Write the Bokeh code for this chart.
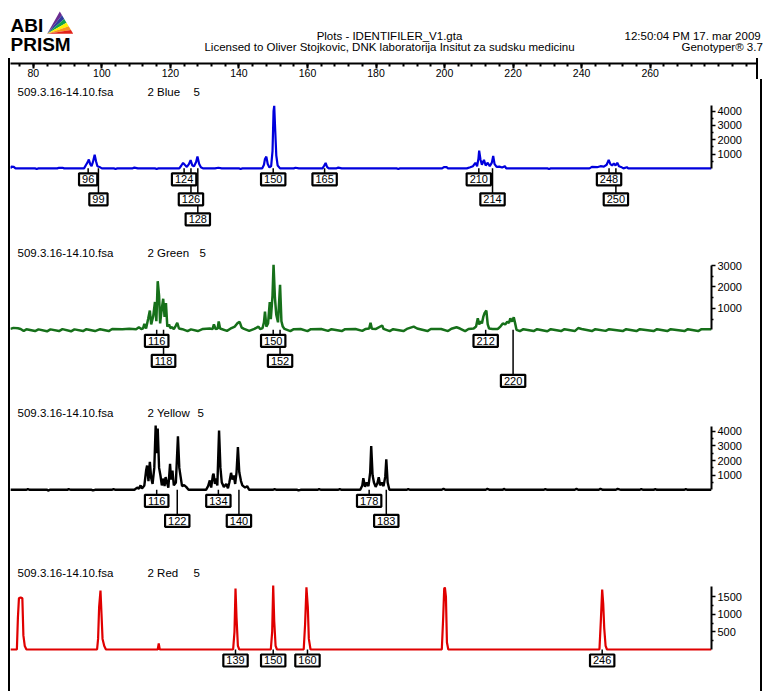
from math import pi
from bokeh.plotting import figure
from bokeh.models import Range1d, FixedTicker, Spacer
from bokeh.layouts import column, row
from bokeh.embed import file_html
from bokeh.resources import INLINE
from bokeh.core.properties import value

FONT = "Liberation Sans"

# ---------------- texts ----------------
logo_top = "ABI"
logo_bottom = "PRISM"
title_line1 = "Plots - IDENTIFILER_V1.gta"
title_line2 = "Licensed to Oliver Stojkovic, DNK laboratorija Insitut za sudsku medicinu"
stamp_line1 = "12:50:04  PM 17. mar 2009"
stamp_line2 = "Genotyper\u00ae 3.7"
sample_name = "509.3.16-14.10.fsa"
dye_names = ["2 Blue", "2 Green", "2 Yellow", "2 Red"]
lane = "5"

# ---------------- size axis (bp) ----------------
ruler_ticks = [80, 100, 120, 140, 160, 180, 200, 220, 240, 260]
ruler_minor = list(range(76, 292, 4))

# ---------------- traces (size in bp, signal in RFU) ----------------
blue_trace = [
    (73.3, 0), (73.6, 120), (74.3, 100), (74.8, 0), (80.5, 0), (81, -40), (81.5, 0),
    (87, 0), (87.5, 40), (88.5, 40), (89, 0),
    (94.8, 0), (95.4, 250), (95.9, 450), (96.2, 620), (96.6, 300), (97.0, 150), (97.4, 450),
    (97.9, 950), (98.3, 500), (98.7, 150), (99.3, 100), (100, 0),
    (103.5, 0), (104, -40), (104.5, 0), (109, 0), (109.5, 50), (110.5, 0), (115.5, 0), (116, -40), (116.5, 0),
    (122.6, 0), (123.2, 200), (123.7, 380), (124.2, 250), (124.8, 100), (125.4, 300), (125.9, 580),
    (126.4, 200), (126.9, 150), (127.5, 450), (127.9, 830), (128.4, 300), (128.9, 80), (129.5, 0),
    (133, 0), (134, 40), (135, 0), (140, 0), (140.5, -40), (141, 0),
    (146.8, 0), (147.3, 250), (147.6, 650), (148.0, 820), (148.4, 300), (148.9, 60), (149.4, 150),
    (149.8, 1200), (150.1, 4000), (150.3, 4380), (150.6, 2600), (150.9, 900), (151.3, 200), (152.0, 0),
    (156, 0), (156.5, 40), (157.5, 0),
    (164.4, 0), (164.9, 200), (165.3, 380), (165.7, 100), (166.2, 0), (168.5, 0), (169, 50), (170, 0),
    (186, 0), (186.5, -40), (187, 0), (199.3, 0), (199.8, 80), (200.6, 80), (201, 0),
    (206.5, 0), (207.5, 80), (208.3, 150), (209.0, 390), (209.5, 150), (209.9, 700), (210.1, 1240),
    (210.5, 600), (210.9, 250), (211.5, 590), (212.0, 200), (212.6, 390), (213.2, 150), (213.8, 400),
    (214.2, 870), (214.6, 300), (215.2, 100), (216.0, 120), (216.8, 60), (217.6, 150), (218.0, 0),
    (230, 0), (230.5, -40), (231, 0),
    (242.3, 0), (243.0, 100), (244.5, 80), (245.5, 150), (246.5, 120), (247.3, 250), (247.9, 590),
    (248.4, 300), (248.9, 200), (249.4, 350), (249.9, 200), (250.4, 390), (250.9, 150), (251.5, 100),
    (252.2, 0), (253.2, 80), (253.6, 0), (277.9, 0),
]
green_trace = [
    (73.3, 40), (74.2, 90), (75.5, 70), (76.3, 40), (77.2, -60), (78, 30), (80.5, -60), (81.5, 20),
    (84, -70), (85, 20), (87.5, -60), (88.5, 30), (91, -70), (92, 20), (94.5, -60), (95.5, 30),
    (98, -60), (99.5, 30), (102, -60), (103, 40), (106, 30), (108, 50), (110, 30), (110.8, 120), (111.5, 40),
    (112.0, 60), (112.4, 280), (112.9, 60), (113.5, 500), (114.0, 900), (114.4, 250), (115.0, 650),
    (115.5, 1300), (115.9, 400), (116.3, 2270), (116.7, 1600), (117.0, 300), (117.5, 1000), (117.9, 1450),
    (118.3, 600), (118.7, 1250), (119.1, 150), (119.6, 250), (120.0, 80), (120.5, 120), (121.0, 30),
    (121.6, 200), (122.0, 330), (122.5, 60), (123.5, 30),
    (125, -60), (126, 20), (128, -60), (129.5, 40), (131.5, 60), (132.3, 30), (132.7, 250), (133.2, 40),
    (133.8, 60), (134.1, 390), (134.5, 60), (136.5, -50), (137.5, 50), (138.8, 150), (139.5, 300),
    (140.2, 370), (140.8, 100), (141.5, 40), (143, -50), (144.5, 40), (145.7, 150), (146.2, 30),
    (146.9, 80), (147.3, 350), (147.6, 850), (148.0, 150), (148.5, 300), (149.0, 1300), (149.3, 500),
    (149.8, 1600), (150.1, 3040), (150.5, 1500), (150.9, 700), (151.4, 350), (152.0, 2100), (152.4, 400),
    (152.8, 150), (153.3, 40),
    (155, -60), (156, 30), (158, 40), (160, -60), (161, 30), (164, 40), (166, -50), (167, 30),
    (170, -60), (171, 30), (174, 40), (176, -50), (177, 40), (178.0, 60), (178.4, 330), (178.8, 50),
    (180, 40), (181.8, 200), (182.2, 40), (184, -60), (185, 30), (188, -60), (189, 40), (191, 150),
    (192, 60), (195, -60), (196, 40), (199, 40), (201, -60), (202, 50), (203.5, 120), (204.5, 60),
    (206, -60), (207, 40),
    (208.5, 60), (209.2, 150), (209.7, 540), (210.1, 250), (210.5, 400), (210.9, 300), (211.3, 600),
    (211.7, 790), (212.2, 900), (212.6, 250), (213.0, 60), (214, 40), (215.5, 40),
    (216.3, 150), (217.0, 300), (217.7, 250), (218.3, 380), (218.8, 320), (219.2, 540), (219.7, 380),
    (220.2, 590), (220.6, 300), (221.0, 0), (222, -60), (223, 30), (226, -60), (227, 30), (230, -70),
    (231, 30), (234, -60), (235, 30), (238, -60), (239, 80), (240, 40), (243, -60), (244, 30),
    (247, -50), (248, 30), (252, -60), (253, 30), (256, -60), (257, 30), (261, -60), (262, 30),
    (265, -60), (266, 30), (270, -60), (271, 30), (274, -60), (275, 30), (277.9, 30),
]
yellow_trace = [
    (73.3, 0), (78, 0), (78.4, 50), (79, 0), (84, 0), (84.3, -50), (84.8, 0), (90, 0), (90.3, 50),
    (91, 0), (97, 0), (97.4, -40), (98, 0), (103, 0), (103.4, 50), (104, 0),
    (109.5, 0), (110.3, 150), (110.8, 80), (111.3, 300), (111.7, 80), (112.4, 300), (112.9, 1300),
    (113.2, 1660), (113.6, 600), (114.0, 1920), (114.4, 800), (114.8, 400), (115.3, 1500), (115.7, 4400),
    (116.0, 2500), (116.3, 4200), (116.7, 1500), (117.1, 980), (117.5, 300), (118.0, 770), (118.3, 250),
    (118.6, 870), (119.0, 500), (119.4, 150), (119.9, 1780), (120.2, 700), (120.6, 1320), (121.0, 300),
    (121.6, 500), (122.2, 3670), (122.6, 1500), (123.0, 870), (123.4, 250), (124.0, 320), (124.6, 200),
    (125.3, 0),
    (130.4, 0), (131.0, 250), (131.5, 640), (131.9, 150), (132.4, 1000), (132.6, 1100), (133.0, 400),
    (133.3, 770), (133.7, 300), (134.2, 4060), (134.6, 1500), (135.0, 500), (135.6, 200), (136.3, 400),
    (136.8, 100), (137.2, 500), (137.7, 1160), (138.1, 700), (138.5, 980), (138.9, 400), (139.3, 1200),
    (139.7, 2920), (140.1, 1200), (140.6, 600), (141.0, 300), (141.8, 150), (142.4, 250), (143.0, 0),
    (150, 0), (150.4, 50), (151, 0), (157, 0), (157.4, -40), (158, 0), (163, 0), (163.4, 50), (164, 0),
    (169, 0), (169.4, 50), (170, 0),
    (175.4, 0), (176.0, 300), (176.3, 800), (176.8, 200), (177.3, 500), (177.8, 250), (178.3, 1200),
    (178.6, 2990), (179.0, 1000), (179.4, 500), (179.9, 200), (180.4, 450), (180.8, 860), (181.2, 300),
    (181.7, 500), (182.2, 250), (182.7, 900), (183.0, 2080), (183.4, 500), (183.9, 0),
    (189, 0), (189.4, 50), (190, 0), (199.2, 0), (199.7, 70), (200.3, 0), (212, 0), (212.5, 60),
    (213.2, 0), (217, 0), (217.3, 70), (217.8, 0), (229, 0), (229.4, 50), (230, 0), (238, 0),
    (238.5, 60), (239, 0), (245, 0), (245.5, 70), (246.2, 0), (250, 0), (250.5, 60), (251.5, 0),
    (257, 0), (257.4, 50), (258, 0), (261, 0), (261.5, 50), (262, 0), (270, 0), (270.4, 50), (271, 0),
    (277.9, 0),
]
red_trace = [
    (73.3, 0), (75.2, 0), (75.5, 900), (75.8, 1450), (76.3, 1475), (76.8, 1450), (77.1, 400),
    (77.5, 100), (78, 0),
    (98.6, 0), (98.9, 300), (99.2, 1200), (99.6, 1670), (99.9, 1000), (100.2, 300), (100.7, 100), (101.2, 0),
    (116.3, 0), (116.6, 170), (116.9, 0),
    (138.3, 0), (138.7, 500), (139.0, 1730), (139.3, 900), (139.7, 100), (140.1, 0),
    (149.3, 0), (149.7, 500), (150.0, 1810), (150.3, 800), (150.7, 100), (151.1, 0),
    (158.9, 0), (159.3, 700), (159.7, 1760), (160.1, 1200), (160.4, 300), (160.9, 0),
    (199.2, 0), (199.6, 900), (199.9, 1720), (200.1, 1760), (200.4, 1500), (200.7, 200), (201.1, 0),
    (245.2, 0), (245.6, 800), (246.0, 1700), (246.3, 1300), (246.6, 600), (247.0, 100), (247.4, 0),
    (277.9, 0),
]

# ---------------- allele calls ----------------
blue_calls = [96, 99, 124, 126, 128, 150, 165, 210, 214, 248, 250]
blue_rows = [1, 2, 1, 2, 3, 1, 1, 1, 2, 1, 2]
green_calls = [116, 118, 150, 152, 212, 220]
green_rows = [1, 2, 1, 2, 1, 3]
yellow_calls = [116, 122, 134, 140, 178, 183]
yellow_rows = [1, 2, 1, 2, 1, 2]
red_calls = [139, 150, 160, 246]
red_rows = [1, 1, 1, 1]

# ---------------- signal axes ----------------
blue_yticks = [1000, 2000, 3000, 4000]
green_yticks = [1000, 2000, 3000]
yellow_yticks = [1000, 2000, 3000, 4000]
red_yticks = [500, 1000, 1500]

# ================= layout =================
HDR_W = 758
BODY_W = 750
BORDER = {"border-left": "2px solid black", "border-right": "2px solid black"}
PANEL_X = Range1d(73.34, 277.9)

hdr = figure(width=HDR_W, height=50, x_range=Range1d(0, HDR_W), y_range=Range1d(50, 0),
             toolbar_location=None, output_backend="svg", min_border=0,
             x_axis_location=None, y_axis_location=None, outline_line_color=None)
hdr.grid.visible = False

# logo prism: fan of colour bands
Lp, Ap, Rp = (38.7, 25.3), (51.3, 3.0), (64.7, 25.3)
band_colors = ["#6a2c91", "#2e3f9e", "#12a14a", "#fff200", "#f7941d", "#e2231a"]
n = len(band_colors)
xs, ys = [], []
for i in range(n):
    t0, t1 = i / n, (i + 1) / n
    p0 = (Ap[0] + (Rp[0] - Ap[0]) * t0, Ap[1] + (Rp[1] - Ap[1]) * t0)
    p1 = (Ap[0] + (Rp[0] - Ap[0]) * t1, Ap[1] + (Rp[1] - Ap[1]) * t1)
    xs.append([Lp[0], p0[0], p1[0]])
    ys.append([Lp[1], p0[1], p1[1]])
hdr.patches(xs, ys, fill_color=band_colors, line_color=None)

hdr.text(x=[2, 2], y=[17, 36], text=[logo_top, logo_bottom], text_font=value(FONT),
         text_font_style="bold", text_font_size="19px", text_align="left",
         text_baseline="middle", text_color="black")
hdr.text(x=[381, 381], y=[27, 38], text=[title_line1, title_line2], text_font=value(FONT),
         text_font_size="11.5px", text_align="center", text_baseline="middle", text_color="black")
hdr.text(x=[616, 673], y=[27, 38], text=[stamp_line1, stamp_line2], text_font=value(FONT),
         text_font_size="11.5px", text_align="left", text_baseline="middle", text_color="black")

# ruler (size axis)
ruler = figure(width=BODY_W, height=21, x_range=Range1d(73.34, 292.2), y_range=Range1d(0, 1),
               toolbar_location=None, output_backend="svg", min_border=0,
               y_axis_location=None, outline_line_color=None, styles=BORDER)
ruler.grid.visible = False
ax = ruler.xaxis[0]
ax.ticker = FixedTicker(ticks=ruler_ticks, minor_ticks=ruler_minor)
ax.axis_line_width = 2
ax.major_tick_out = 5
ax.major_tick_in = 0
ax.minor_tick_out = 3
ax.minor_tick_in = 0
ax.major_tick_line_width = 2
ax.minor_tick_line_width = 2
ax.major_label_standoff = 0
ax.major_label_text_font = FONT
ax.major_label_text_font_size = "10.5px"
ax.major_label_text_color = "black"


def make_panel(trace, calls, rows, color, lw, yr, yticks, ybound, dye, lane_dx, height):
    p = figure(width=BODY_W, height=height, x_range=PANEL_X, y_range=Range1d(*yr),
               toolbar_location=None, output_backend="svg",
               min_border_left=0, min_border_top=0, min_border_bottom=0, min_border_right=49,
               x_axis_location=None, y_axis_location="right", outline_line_color=None)
    p.grid.visible = False
    ya = p.yaxis[0]
    step = yticks[0]
    minor = [t - step / 2 for t in yticks]
    ya.ticker = FixedTicker(ticks=yticks, minor_ticks=minor)
    ya.bounds = (0, ybound)
    ya.axis_line_width = 2
    ya.major_tick_out = 4
    ya.major_tick_in = 0
    ya.minor_tick_out = 2
    ya.minor_tick_in = 0
    ya.major_tick_line_width = 1.5
    ya.minor_tick_line_width = 1.5
    ya.major_label_standoff = 2
    ya.major_label_text_font = FONT
    ya.major_label_text_font_size = "11px"
    ya.major_label_text_color = "black"

    bx = [t[0] for t in trace]
    by = [t[1] for t in trace]
    p.line(bx, by, line_color=color, line_width=lw)

    offs = [5 + (r - 1) * 20 for r in rows]
    p.ray(x=calls, y=[0] * len(calls), length=offs, length_units="screen",
          angle=-pi / 2, line_color="black", line_width=1.5)
    p.text(x=calls, y=[0] * len(calls), text=[str(c) for c in calls], y_offset=offs,
           text_font=value(FONT), text_font_size="11px", text_align="center",
           text_baseline="top", text_color="black",
           background_fill_color="white", border_line_color="black",
           border_line_width=2.2, padding=(3, 2))

    x0 = PANEL_X.start
    p.text(x=[x0, x0, x0], y=[yr[1]] * 3, text=[sample_name, dye, lane],
           x_offset=[7, 137, lane_dx], y_offset=12, text_font=value(FONT),
           text_font_size="11.5px", text_align="left", text_baseline="middle", text_color="black")
    return p


pb = make_panel(blue_trace, blue_calls, blue_rows, "#0000dd", 2.2, (-5049, 6218),
                blue_yticks, 4400, dye_names[0], 183, 161)
pg = make_panel(green_trace, green_calls, green_rows, "#16701a", 2.5, (-3304, 4173),
                green_yticks, 3000, dye_names[1], 189, 160)
py = make_panel(yellow_trace, yellow_calls, yellow_rows, "black", 2.4, (-4842, 6116),
                yellow_yticks, 4350, dye_names[2], 187, 160)
pr = make_panel(red_trace, red_calls, red_rows, "#e00000", 2.2, (-1191, 2523),
                red_yticks, 1780, dye_names[3], 183, 131)

body = column(pb, pg, py, pr, spacing=0, styles=BORDER)
main = column(Spacer(height=8), hdr, ruler, body, spacing=0)
layout = row(Spacer(width=8), main, spacing=0)

with open("out.html", "w", encoding="utf-8") as f:
    f.write(file_html(layout, INLINE, title="Plots - IDENTIFILER_V1.gta"))
